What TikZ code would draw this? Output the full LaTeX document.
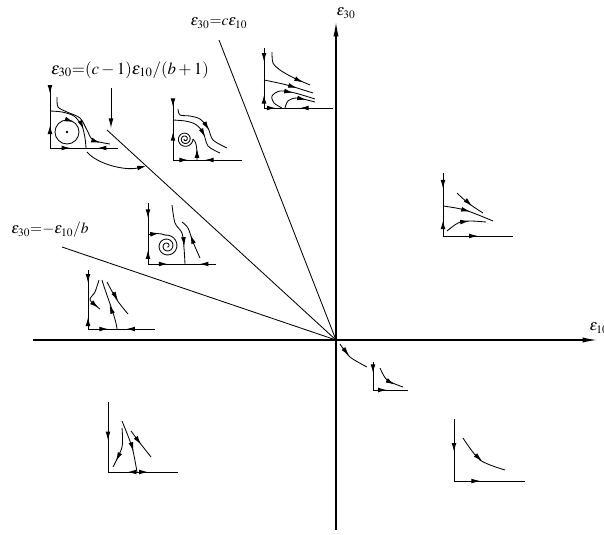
\documentclass[tikz,border=0pt]{standalone}
\usepackage{mathptmx}
\usepackage{tikz}
\usetikzlibrary{arrows.meta,decorations.markings}

\begin{document}
\begin{tikzpicture}[x=0.025cm,y=-0.025cm,
  axis/.style={line width=0.9pt,-{Latex[length=3.6mm,width=1.3mm]}},
  ray/.style={line width=0.6pt},
  ax/.style={line width=0.7pt},
  traj/.style={line width=0.6pt},
  tip/.style={line width=0.6pt,-{Latex[length=2.2mm,width=1.2mm]}},
  fw/.style={postaction={decorate,decoration={markings,mark=at position #1 with {\arrow{Latex[length=2.2mm,width=1.2mm]}}}}},
  bw/.style={postaction={decorate,decoration={markings,mark=at position #1 with {\arrowreversed{Latex[length=2.2mm,width=1.2mm]}}}}},
  lab/.style={font=\fontsize{11}{13}\selectfont,inner sep=1pt}]
  \useasboundingbox (0,0) rectangle (604,534);
  % main axes
  \coordinate (O) at (336,340);
  \coordinate (xl) at (33,340);  \coordinate (xr) at (597,340);
  \coordinate (yb) at (336,530); \coordinate (yt) at (336,22);
  \draw[axis] (xl) -- (xr);
  \draw[axis] (yb) -- (yt);
  \node[lab] (e30) at (346,13) {$\varepsilon_{30}$};
  \node[lab,anchor=west] (e10) at (588,328) {$\varepsilon_{10}$};
  % boundary lines
  \coordinate (r1) at (219,40);
  \coordinate (r2) at (107,130);
  \coordinate (r3) at (62,247);
  \draw[ray] (O) -- (r1);
  \draw[ray] (O) -- (r2);
  \draw[ray] (O) -- (r3);
  \node[lab] (lc) at (219,23) {$\varepsilon_{30}{=}c\varepsilon_{10}$};
  \node[lab,font=\fontsize{12}{14}\selectfont] (lcb) at (130,70) {$\varepsilon_{30}{=}(c-1)\varepsilon_{10}/(b+1)$};
  \node[lab] (lb) at (50,230) {$\varepsilon_{30}{=}{-}\varepsilon_{10}/b$};
  \coordinate (pa) at (111,88); \coordinate (pb) at (111,128);
  \draw[traj,-{Latex[length=2.4mm,width=1.2mm]}] (pa) -- (pb);
  % D1: centre
  \draw[ax,fw=0.1,bw=0.62] (50,88) -- (50,148);
  \draw[ax,fw=0.3,bw=0.7] (50,148) -- (118,148);
  \draw[traj] plot[smooth] coordinates {(57,97) (58,107) (67,112) (80,118) (87,130) (93,140) (110,144)};
  \draw[tip] (93,140.5) -- (100,142.8);
  \draw[traj] plot[smooth] coordinates {(50,111) (62,112) (74,116) (82,126) (85,138) (86,148)};
  \draw[tip] (80,121) -- (83.5,129);
  \draw[traj] (67,132) circle (12);
  \draw[tip] (68,120) -- (73.5,122);
  \fill (67,132) circle (1.3);
  \draw[traj,-{Latex[length=2.2mm,width=1.2mm]}] (87,152) .. controls (97,164) and (125,171) .. (146,166);
  % D2: spiral
  \draw[ax,fw=0.12,bw=0.53] (173,100) -- (173,160);
  \draw[ax,fw=0.22,bw=0.46] (173,160) -- (242,160);
  \draw[traj] plot[smooth] coordinates {(178,109) (180,115) (190,116) (200,119) (208,128) (213,140) (227,148)};
  \draw[tip] (204,122) -- (209,130);
  \draw[traj] plot[smooth] coordinates {(173,120) (185,121) (195,124) (203,132) (208,146) (220,153)};
  \draw[tip] (201,129) -- (205,137);
  \draw[traj] (197,160) .. controls (197,150) and (197,142) .. (193,139);
  \draw[tip] (197,156) -- (197,149);
  \draw[traj] plot[domain=0:900,samples=90,smooth] ({185+(8-\x/900*7.2)*cos(\x)},{139+(8-\x/900*7.2)*sin(\x)});
  % D3
  \draw[ax,fw=0.23,bw=0.78] (264,48) -- (264,108);
  \draw[ax,fw=0.17,bw=0.52] (264,108) -- (333,108);
  \draw[traj] plot[smooth] coordinates {(272,52) (273,63) (280,70) (292,77) (310,85)};
  \draw[tip] (296,79) -- (303,82.5);
  \draw[traj] plot[smooth] coordinates {(264,80) (287,85) (313,93)};
  \draw[tip] (289,85.6) -- (297,88);
  \draw[traj] plot[smooth] coordinates {(282,108) (274,103) (272,96) (280,91) (295,93) (315,99)};
  \draw[tip] (285,91.2) -- (293,92.6);
  \draw[traj] plot[smooth] coordinates {(285,108) (288,101) (297,98) (315,102)};
  \draw[tip] (299,98.3) -- (306,99.7);
  % D4: spiral
  \draw[ax,fw=0.25,bw=0.77] (148,203) -- (148,264);
  \draw[ax,fw=0.29,bw=0.76] (148,264) -- (216,264);
  \draw[traj] plot[smooth] coordinates {(172,205) (175,223) (182,233) (184,248) (185,264)};
  \draw[tip] (183.5,238) -- (184.3,246);
  \draw[traj] plot[smooth] coordinates {(200,258) (193,242) (188,228) (182,222)};
  \draw[tip] (193.5,243) -- (190.5,235);
  \draw[traj] (148,235) .. controls (154,233) and (160,233) .. (165,235);
  \draw[tip] (151,234.2) -- (159,233.2);
  \draw[traj] plot[domain=-100:800,samples=90,smooth] ({167+(11-(\x+100)/900*10)*cos(\x)},{246+(11-(\x+100)/900*10)*sin(\x)});
  % D5
  \draw[ax,fw=0.25,bw=0.75] (443,173) -- (443,236);
  \draw[ax,fw=0.5] (443,236) -- (513,236);
  \draw[traj] plot[smooth] coordinates {(457,193) (468,203) (483,213)};
  \draw[tip] (466,200.5) -- (472,205.8);
  \draw[traj] plot[smooth] coordinates {(443,206) (465,210) (493,221)};
  \draw[tip] (462,209.4) -- (470,211.5);
  \draw[traj] plot[smooth] coordinates {(447,231) (458,223) (470,221) (486,222)};
  \draw[tip] (461,222) -- (469,221);
  % D6
  \draw[ax,fw=0.22,bw=0.8] (88,270) -- (88,329);
  \draw[ax,fw=0.3,bw=0.57] (88,329) -- (155,329);
  \draw[traj] plot[smooth] coordinates {(99,280) (95,292) (90,300) (100,309)};
  \draw[tip] (92,302.5) -- (98.5,307.8);
  \draw[traj] (117,329) .. controls (116,318) and (106,294) .. (102,280);
  \draw[tip] (112.5,313) -- (109.5,305);
  \draw[traj] plot[smooth] coordinates {(107,282) (117,300) (128,314)};
  \draw[tip] (113,292) -- (118,300.5);
  % D7
  \draw[traj] plot[smooth] coordinates {(340,344) (350,357) (367,367)};
  \draw[tip] (343,348) -- (349,355.5);
  \draw[ax,fw=0.4] (373,362) -- (373,390);
  \draw[ax,fw=0.4] (373,390) -- (408,390);
  \draw[traj] plot[smooth] coordinates {(380,368) (387,380) (403,387)};
  \draw[tip] (388,381) -- (394.5,384.5);
  % D8
  \draw[ax,fw=0.55] (108,402) -- (108,472);
  \draw[ax,bw=0.28,fw=0.57] (108,472) -- (178,472);
  \draw[traj] plot[smooth] coordinates {(122,428) (122,447) (113,467)};
  \draw[tip] (120,453) -- (116,461);
  \draw[traj] plot[smooth] coordinates {(122,421) (132,447) (137,472)};
  \draw[tip] (131,443) -- (133.5,451);
  \draw[traj] plot[smooth] coordinates {(131,431) (140,443) (151,457)};
  \draw[tip] (135.5,437) -- (141,444.5);
  % D9
  \draw[ax,fw=0.53] (454,419) -- (454,481);
  \draw[ax,fw=0.37] (454,481) -- (525,481);
  \draw[traj] plot[smooth] coordinates {(463,438) (480,460) (505,470)};
  \draw[tip] (475,454.5) -- (482,461);
\end{tikzpicture}
\end{document}
